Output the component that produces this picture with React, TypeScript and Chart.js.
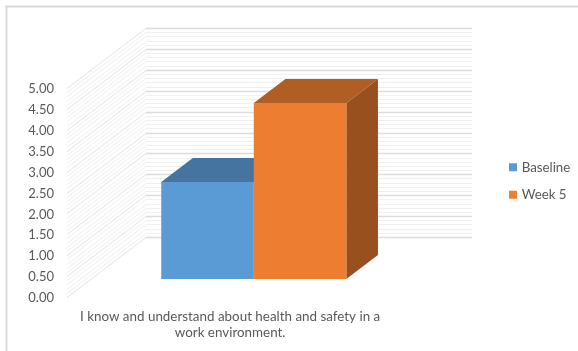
import React, { useEffect, useRef } from "react";
import { Chart, registerables } from "chart.js";

Chart.register(...registerables);

const categories = [["I know and understand about health and safety in a", "work environment."]];
const baselineValues = [2.32];
const week5Values = [4.21];
const seriesNames = ["Baseline", "Week 5"];
const frontColors = ["#5B9BD5", "#ED7D31"];
const topColors = ["#44749F", "#B15E25"];
const sideColors = ["#3D6A92", "#97501E"];
const yMin = 0;
const yMax = 5;
const majorStep = 0.5;
const minorStep = 0.1;

const TEXT = "#595959";
const FONT = "Lato";
// Depth of the box the chart stands in, as a pixel offset from front to back.
const DEPTH_X = 79;
const DEPTH_Y = -60;
const BACK_RIGHT = 472;
const BAR_FRONT = 0.3;
const BAR_BACK = 0.7;

const wallGrid = {
  id: "wallGrid",
  beforeDraw(chart: any) {
    const { ctx, chartArea, scales } = chart;
    ctx.save();
    ctx.fillStyle = "#fff";
    ctx.fillRect(0, 0, chart.width, chart.height);
    // outer frame: only the top and left edges are in view
    ctx.strokeStyle = "#d9d9d9";
    ctx.lineWidth = 2;
    ctx.beginPath();
    ctx.moveTo(6.5, chart.height);
    ctx.lineTo(6.5, 6.5);
    ctx.lineTo(chart.width, 6.5);
    ctx.stroke();

    const x0 = chartArea.left;
    const x1 = x0 + DEPTH_X;
    const count = Math.round((yMax - yMin) / minorStep);
    const perMajor = Math.round(majorStep / minorStep);
    const passes = [false, true];
    for (const major of passes) {
      // side wall, running back from the value axis
      ctx.strokeStyle = major ? "#e4e4e4" : "#f0f0f0";
      ctx.lineWidth = 1;
      ctx.beginPath();
      for (let i = 0; i <= count; i++) {
        if ((i % perMajor === 0) !== major) continue;
        const y = Math.round(scales.y.getPixelForValue(yMin + i * minorStep)) + 0.5;
        ctx.moveTo(x0, y);
        ctx.lineTo(x1, y + DEPTH_Y);
      }
      ctx.stroke();
      // back wall
      ctx.strokeStyle = major ? "#dcdcdc" : "#f0f0f0";
      ctx.lineWidth = major ? 1.4 : 1;
      ctx.beginPath();
      for (let i = 0; i <= count; i++) {
        if ((i % perMajor === 0) !== major) continue;
        const y = Math.round(scales.y.getPixelForValue(yMin + i * minorStep)) + 0.5;
        ctx.moveTo(x1, y + DEPTH_Y);
        ctx.lineTo(BACK_RIGHT, y + DEPTH_Y);
      }
      ctx.stroke();
    }
    ctx.restore();
  },
};

// Paints the series left to right, so each box hides the back of the one before it,
// adding the top and side faces behind each bar's own front rectangle.
const bar3d = {
  id: "bar3d",
  beforeDatasetDraw() {
    return false;
  },
  afterDatasetsDraw(chart: any) {
    const { ctx } = chart;
    const dx = DEPTH_X * (BAR_BACK - BAR_FRONT);
    const dy = DEPTH_Y * (BAR_BACK - BAR_FRONT);
    chart.data.datasets.forEach((_: any, i: number) => {
      const meta = chart.getDatasetMeta(i);
      ctx.save();
      ctx.translate(DEPTH_X * BAR_FRONT, DEPTH_Y * BAR_FRONT);
      for (const el of meta.data) {
        const l = el.x - el.width / 2;
        const r = el.x + el.width / 2;
        ctx.fillStyle = sideColors[i];
        ctx.beginPath();
        ctx.moveTo(r, el.y);
        ctx.lineTo(r + dx, el.y + dy);
        ctx.lineTo(r + dx, el.base + dy);
        ctx.lineTo(r, el.base);
        ctx.closePath();
        ctx.fill();
        ctx.fillStyle = topColors[i];
        ctx.beginPath();
        ctx.moveTo(l, el.y);
        ctx.lineTo(l + dx, el.y + dy);
        ctx.lineTo(r + dx, el.y + dy);
        ctx.lineTo(r, el.y);
        ctx.closePath();
        ctx.fill();
      }
      meta.controller.draw();
      ctx.restore();
    });
  },
};

const legendPlacement = {
  id: "legendPlacement",
  afterLayout(chart: any) {
    const lg = chart.legend;
    const w = lg.right - lg.left;
    const h = lg.bottom - lg.top;
    lg.left = 497;
    lg.right = 497 + w;
    lg.top = 181 - h / 2;
    lg.bottom = 181 + h / 2;
  },
};

export default function App() {
  const ref = useRef<HTMLCanvasElement>(null);
  useEffect(() => {
    document.body.style.margin = "0";
    const chart = new Chart(ref.current as HTMLCanvasElement, {
      type: "bar",
      data: {
        labels: categories as any,
        datasets: [
          { label: seriesNames[0], data: baselineValues, backgroundColor: frontColors[0] },
          { label: seriesNames[1], data: week5Values, backgroundColor: frontColors[1] },
        ],
      },
      plugins: [wallGrid, bar3d, legendPlacement],
      options: {
        animation: false,
        responsive: false,
        categoryPercentage: 185 / 326,
        barPercentage: 1,
        layout: { padding: { top: 88, left: 0, right: 0, bottom: 0 } },
        scales: {
          x: {
            grid: { display: false },
            border: { display: false },
            ticks: {
              color: TEXT,
              font: { family: FONT, size: 13.4 },
              maxRotation: 0,
              autoSkip: false,
              padding: 4,
            },
            afterFit(s: any) {
              s.height = 54;
            },
          },
          y: {
            min: yMin,
            max: yMax,
            grid: { display: false },
            border: { display: false },
            ticks: {
              stepSize: majorStep,
              color: TEXT,
              padding: 5,
              labelOffset: 1,
              font: { family: FONT, size: 13 },
              callback: (v: any) => Number(v).toFixed(2),
            },
            afterFit(s: any) {
              s.width = 67;
            },
          },
          // empty axis that reserves the room the back wall extends into
          y2: {
            position: "right",
            grid: { display: false },
            border: { display: false },
            ticks: { display: false },
            afterFit(s: any) {
              s.width = 101.5;
            },
          },
        },
        plugins: {
          title: { display: false },
          tooltip: { enabled: false },
          legend: {
            position: "right",
            labels: {
              usePointStyle: true,
              pointStyle: "rect",
              boxWidth: 4,
              boxHeight: 8,
              padding: 14,
              color: TEXT,
              font: { family: FONT, size: 13.3 },
            },
          },
        },
      } as any,
    });
    return () => chart.destroy();
  }, []);
  return <canvas ref={ref} width={578} height={351} style={{ display: "block" }} />;
}
